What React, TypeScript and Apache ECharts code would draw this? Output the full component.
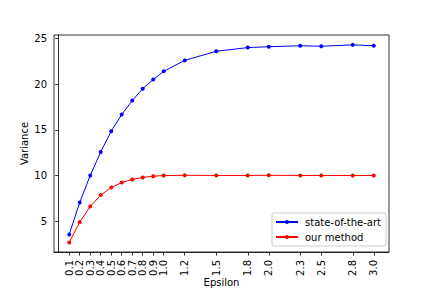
import React, { useEffect, useRef } from "react";
import * as echarts from "echarts";

const epsilons = [0.1, 0.2, 0.3, 0.4, 0.5, 0.6, 0.7, 0.8, 0.9, 1.0, 1.2, 1.5, 1.8, 2.0, 2.3, 2.5, 2.8, 3.0];
const stateOfTheArt = [3.54, 7.05, 10.0, 12.58, 14.85, 16.67, 18.2, 19.5, 20.5, 21.4, 22.6, 23.6, 24.0, 24.1, 24.2, 24.15, 24.3, 24.2];
const ourMethod = [2.67, 4.89, 6.6, 7.85, 8.68, 9.23, 9.56, 9.78, 9.92, 9.99, 10.02, 10.0, 10.0, 10.02, 10.0, 10.0, 10.0, 10.0];
const yTicks = [5, 10, 15, 20, 25];

const FONT = "DejaVu Sans";

export default function App() {
  const ref = useRef<HTMLDivElement>(null);
  useEffect(() => {
    if (!ref.current) return;
    const chart = echarts.init(ref.current, null, { renderer: "svg" });
    chart.setOption({
      animation: false,
      backgroundColor: "#fff",
      textStyle: { fontFamily: FONT },
      grid: {
        left: 54,
        right: 43,
        top: 35,
        bottom: 36,
        containLabel: false,
        outerBoundsMode: "none",
        show: true,
        borderColor: "#000",
        borderWidth: 0.8,
        backgroundColor: "transparent",
      },
      xAxis: {
        type: "value",
        min: -0.045,
        max: 3.145,
        name: "Epsilon",
        nameLocation: "middle",
        nameGap: 25,
        nameMoveOverlap: false,
        nameTextStyle: { fontSize: 10, color: "#000", fontFamily: FONT },
        axisLine: { show: true, lineStyle: { color: "#000", width: 0.8 } },
        axisTick: { show: true, length: 3.5, lineStyle: { color: "#000", width: 0.8 }, customValues: epsilons },
        axisLabel: {
          rotate: 90,
          fontSize: 10,
          color: "#000",
          fontFamily: FONT,
          margin: 8,
          customValues: epsilons,
          formatter: (v: number) => v.toFixed(1),
        },
        splitLine: { show: false },
      },
      yAxis: {
        type: "value",
        min: 1.62,
        max: 25.38,
        name: "Variance",
        nameLocation: "middle",
        nameGap: 25,
        nameMoveOverlap: false,
        nameTextStyle: { fontSize: 10, color: "#000", fontFamily: FONT },
        axisLine: { show: true, lineStyle: { color: "#000", width: 0.8 } },
        axisTick: { show: true, length: 3.5, lineStyle: { color: "#000", width: 0.8 }, customValues: yTicks },
        axisLabel: {
          fontSize: 10,
          color: "#000",
          fontFamily: FONT,
          margin: 7,
          customValues: yTicks,
          formatter: (v: number) => String(v),
        },
        splitLine: { show: false },
      },
      legend: {
        orient: "vertical",
        left: 272,
        top: 213,
        backgroundColor: "rgba(255,255,255,0.8)",
        borderColor: "#ccc",
        borderWidth: 1,
        borderRadius: 2,
        padding: [3, 5, 3, 3],
        itemGap: 3,
        itemWidth: 22,
        itemHeight: 5,
        textStyle: { fontSize: 10, color: "#000", fontFamily: FONT, padding: [0, 0, 0, 2], lineHeight: 12 },
        data: ["state-of-the-art", "our method"],
      },
      series: [
        {
          name: "state-of-the-art",
          type: "line",
          data: epsilons.map((e, i) => [e, stateOfTheArt[i]]),
          color: "#0000ff",
          lineStyle: { width: 1, color: "#0000ff" },
          symbol: "circle",
          symbolSize: 4,
          itemStyle: { color: "#0000ff" },
        },
        {
          name: "our method",
          type: "line",
          data: epsilons.map((e, i) => [e, ourMethod[i]]),
          color: "#ff0000",
          lineStyle: { width: 1, color: "#ff0000" },
          symbol: "circle",
          symbolSize: 4,
          itemStyle: { color: "#ff0000" },
        },
      ],
    });
    return () => chart.dispose();
  }, []);
  return <div ref={ref} style={{ width: 432, height: 288, position: "absolute", left: 0, top: 0 }} />;
}
